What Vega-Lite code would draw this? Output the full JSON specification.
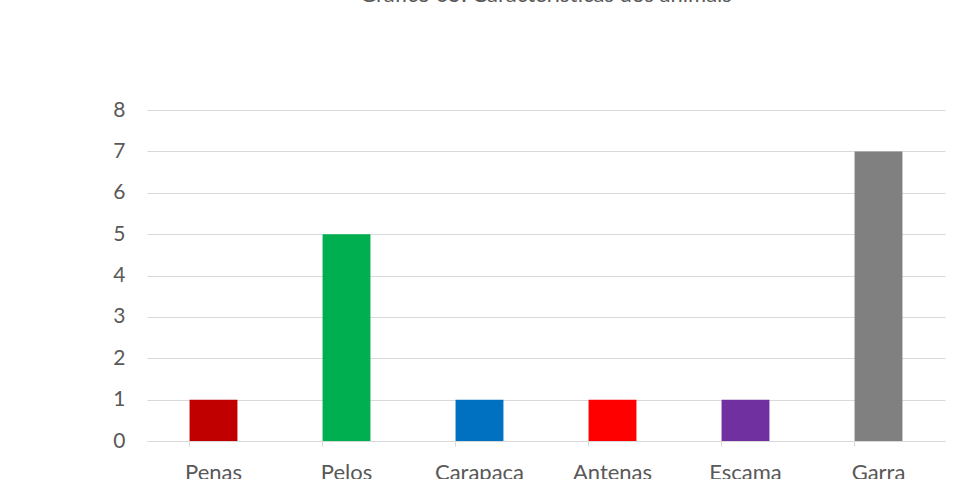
{
  "$schema": "https://vega.github.io/schema/vega-lite/v6.json",
  "autosize": {"type": "none"},
  "width": 798,
  "height": 331,
  "padding": {"left": 147, "top": 110, "right": 12, "bottom": 38},
  "background": "white",
  "title": {
    "text": "Gráfico 05: Características dos animais",
    "font": "Lato",
    "fontSize": 22,
    "fontWeight": "normal",
    "color": "#595959",
    "anchor": "middle",
    "baseline": "bottom",
    "offset": 70
  },
  "data": {
    "values": [
      {"caracteristica": "Penas", "quantidade": 1},
      {"caracteristica": "Pelos", "quantidade": 5},
      {"caracteristica": "Carapaca", "quantidade": 1},
      {"caracteristica": "Antenas", "quantidade": 1},
      {"caracteristica": "Escama", "quantidade": 1},
      {"caracteristica": "Garra", "quantidade": 7}
    ]
  },
  "mark": {"type": "bar"},
  "encoding": {
    "x": {
      "field": "caracteristica",
      "type": "nominal",
      "sort": null,
      "scale": {"paddingInner": 0.64, "paddingOuter": 0.32},
      "axis": {
        "title": null,
        "labelAngle": 0,
        "labelFont": "Lato",
        "labelFontSize": 22,
        "labelColor": "#595959",
        "labelPadding": 16,
        "domainColor": "#d9d9d9",
        "domainWidth": 1,
        "tickColor": "#d9d9d9",
        "tickSize": 5,
        "bandPosition": 0,
        "grid": false
      }
    },
    "y": {
      "field": "quantidade",
      "type": "quantitative",
      "scale": {"domain": [0, 8]},
      "axis": {
        "title": null,
        "values": [0, 1, 2, 3, 4, 5, 6, 7, 8],
        "labelOverlap": false,
        "labelFont": "Lato",
        "labelFontSize": 21,
        "labelColor": "#595959",
        "labelPadding": 22,
        "tickSize": 0,
        "domain": false,
        "grid": true,
        "gridColor": "#d9d9d9",
        "gridWidth": 1
      }
    },
    "color": {
      "field": "caracteristica",
      "type": "nominal",
      "sort": null,
      "scale": {
        "domain": ["Penas", "Pelos", "Carapaca", "Antenas", "Escama", "Garra"],
        "range": ["#C00000", "#00B050", "#0070C0", "#FF0000", "#7030A0", "#808080"]
      },
      "legend": null
    }
  },
  "config": {"view": {"stroke": null}}
}
